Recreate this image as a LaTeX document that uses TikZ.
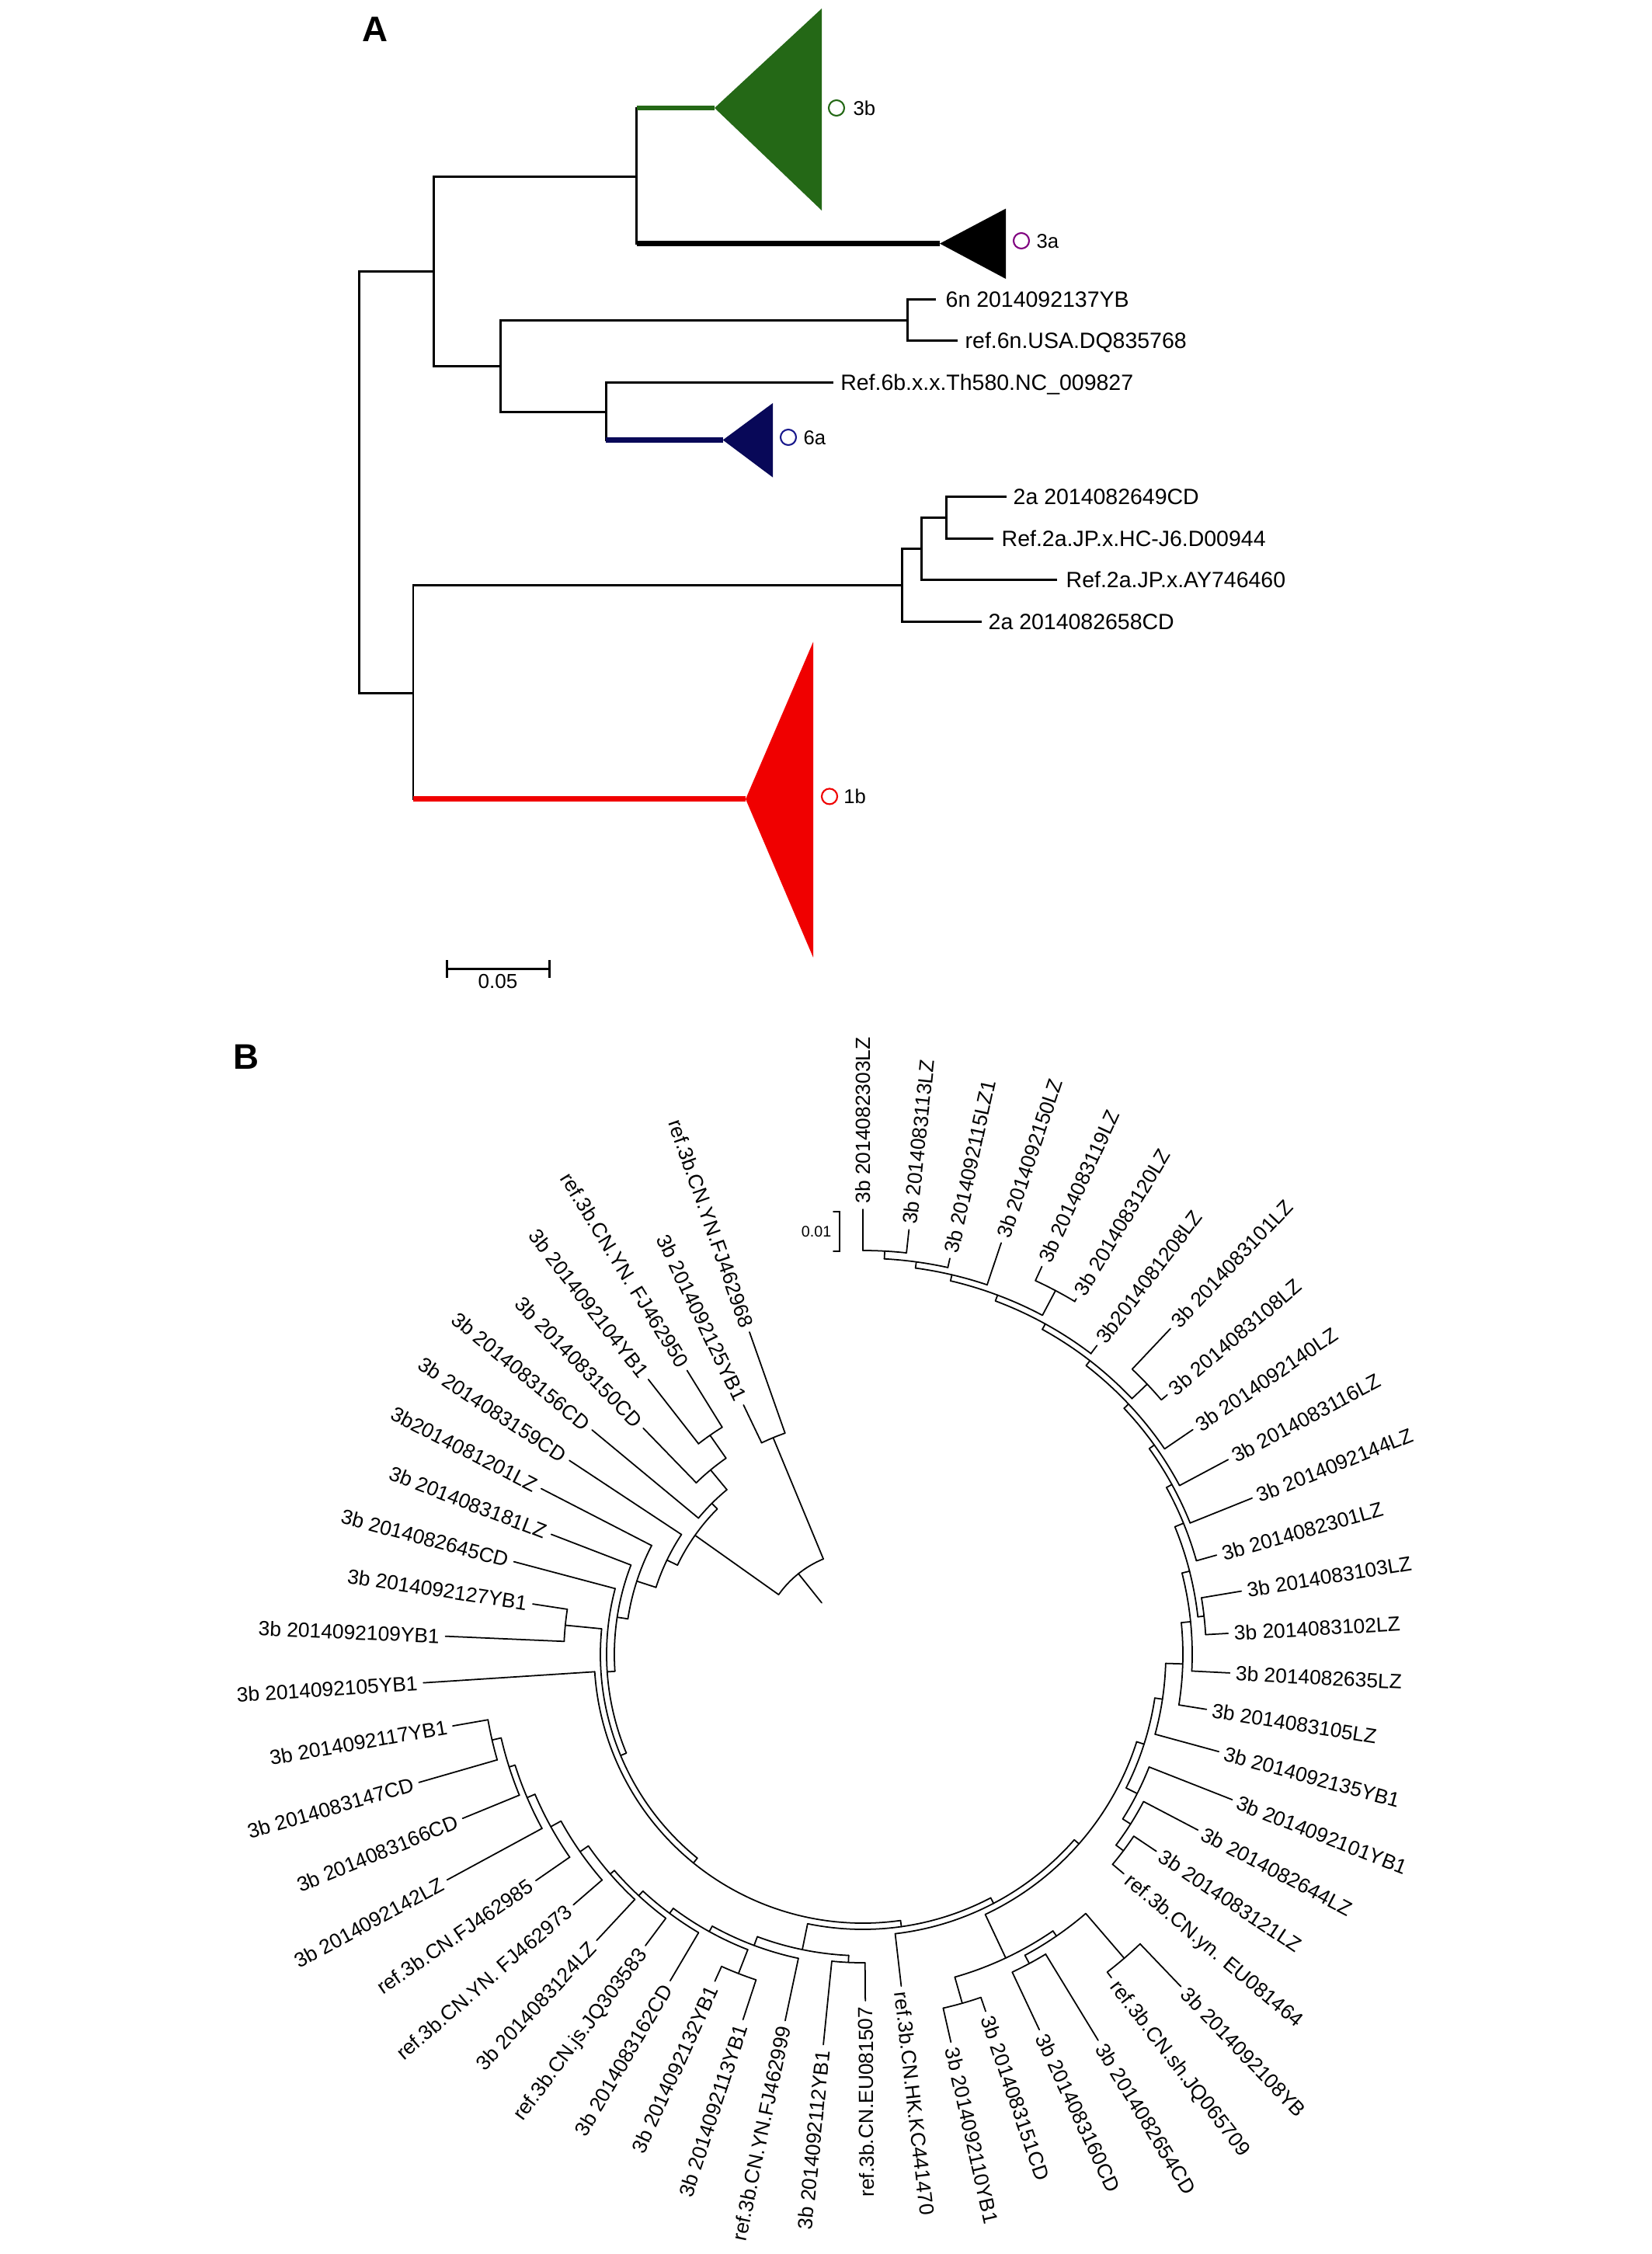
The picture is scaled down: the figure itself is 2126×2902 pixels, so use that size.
\documentclass[tikz,border=0pt]{standalone}
\usepackage{fontspec}
\setmainfont{Liberation Sans}
\definecolor{cladegreen}{RGB}{36,104,22}
\definecolor{cladenavy}{RGB}{8,8,88}
\definecolor{cladered}{RGB}{240,0,0}
\definecolor{circpurple}{RGB}{128,0,128}
\definecolor{circblue}{RGB}{25,25,140}
\newcommand\trArc[3]{\pgfmathsetmacro\tmpR{#1*0.01}\draw[tb] (#2:\tmpR cm) arc[start angle=#2, end angle=#3, radius=\tmpR cm];}
\newcommand\trRad[3]{\pgfmathsetmacro\tmpA{#2*0.01}\pgfmathsetmacro\tmpB{#3*0.01}\draw[tb] (#1:\tmpA cm) -- (#1:\tmpB cm);}
\tikzset{
 tb/.style={line width=0.5pt, line cap=round},
 ta/.style={line width=0.85pt, line cap=rect},
 blab/.style={font=\fontsize{7.5}{9}\selectfont, inner sep=0pt, text height=5.4pt, text depth=0pt},
 alab/.style={font=\fontsize{8.1}{9.7}\selectfont, anchor=west, inner sep=0pt, text height=5.8pt, text depth=0pt},
 clab/.style={font=\fontsize{7.3}{8.8}\selectfont, anchor=west, inner sep=0pt, text height=5.2pt, text depth=0pt},
 plab/.style={font=\bfseries\fontsize{13}{15}\selectfont, inner sep=0pt, text height=9.3pt, text depth=0pt},
 circ/.style={line width=0.6pt},
}
\begin{document}
\begin{tikzpicture}[x=0.01cm,y=0.01cm]
\useasboundingbox (0,0) rectangle (2126,-2902);
\fill[white] (0,0) rectangle (2126,-2902);

% ---------------- Panel A ----------------
\node[plab] (labA) at (483,-37.5) {A};
\begin{scope}[ta]
\draw (462.5,-349) -- (462.5,-892);
\draw (462.5,-349) -- (558,-349);
\draw (558,-227.5) -- (558,-471);
\draw (558,-227.5) -- (819.6,-227.5);
\draw (819.6,-139) -- (819.6,-313.6);
\draw (558,-471) -- (644,-471);
\draw (644,-412.5) -- (644,-530.7);
\draw (644,-412.5) -- (1168.5,-412.5);
\draw (1168.5,-385) -- (1168.5,-438.6);
\draw (1168.5,-385) -- (1203,-385);
\draw (1168.5,-438.6) -- (1231,-438.6);
\draw (644,-530.7) -- (780,-530.7);
\draw (780,-492.6) -- (780,-566.5);
\draw (780,-492.6) -- (1071.6,-492.6);
\draw (462.5,-892) -- (532,-892);
\draw (532,-753.6) -- (532,-1028.8);
\draw (532,-753.6) -- (1161,-753.6);
\draw (1161,-706.5) -- (1161,-800.4);
\draw (1161,-800.4) -- (1262,-800.4);
\draw (1161,-706.5) -- (1186,-706.5);
\draw (1186,-666.7) -- (1186,-746.3);
\draw (1186,-746.3) -- (1359,-746.3);
\draw (1186,-666.7) -- (1218.4,-666.7);
\draw (1218.4,-639.5) -- (1218.4,-693.2);
\draw (1218.4,-639.5) -- (1294,-639.5);
\draw (1218.4,-693.2) -- (1277,-693.2);
\end{scope}
% collapsed clades
\draw[cladegreen, line width=1.5pt] (819.6,-139) -- (920,-139);
\fill[cladegreen] (920,-139) -- (1058,-11) -- (1058,-271) -- cycle;
\draw[black, line width=1.8pt] (819.6,-313.6) -- (1210,-313.6);
\fill[black] (1210,-313.6) -- (1295,-268.6) -- (1295,-359) -- cycle;
\draw[cladenavy, line width=1.9pt] (780,-566.5) -- (930.7,-566.5);
\fill[cladenavy] (930.7,-566.5) -- (995,-519) -- (995,-614.6) -- cycle;
\draw[cladered, line width=1.9pt] (532,-1028.8) -- (960,-1028.8);
\fill[cladered] (960,-1028.8) -- (1047,-826.4) -- (1047,-1232.7) -- cycle;
% circles and clade labels
\draw[circ, cladegreen] (1077,-139) circle[radius=0.1cm];
\node[clab] (c3b) at (1098,-139) {3b};
\draw[circ, circpurple] (1315,-310) circle[radius=0.1cm];
\node[clab] (c3a) at (1334,-310) {3a};
\draw[circ, circblue] (1015,-563) circle[radius=0.1cm];
\node[clab] (c6a) at (1034,-563) {6a};
\draw[circ, cladered] (1068,-1025.4) circle[radius=0.1cm];
\node[clab] (c1b) at (1085.6,-1025.4) {1b};
% leaf labels
\node[alab] (a1) at (1217,-385) {6n 2014092137YB};
\node[alab] (a2) at (1242,-438.6) {ref.6n.USA.DQ835768};
\node[alab] (a3) at (1081.6,-492.6) {Ref.6b.x.x.Th580.NC\_009827};
\node[alab] (a4) at (1304,-639.5) {2a 2014082649CD};
\node[alab] (a5) at (1289,-693.2) {Ref.2a.JP.x.HC-J6.D00944};
\node[alab] (a6) at (1372,-746.3) {Ref.2a.JP.x.AY746460};
\node[alab] (a7) at (1272,-800.4) {2a 2014082658CD};
% scale bar
\begin{scope}[ta]
\draw (575,-1247.7) -- (707,-1247.7);
\draw (575,-1237.7) -- (575,-1257.7);
\draw (707,-1237.7) -- (707,-1257.7);
\end{scope}
\node[font=\fontsize{7.4}{9}\selectfont, inner sep=0pt, text height=5.3pt, text depth=0pt] (sA) at (641,-1263) {0.05};

% ---------------- Panel B ----------------
\node[plab] (labB) at (317.5,-1360) {B};
% scale bar 0.01
\draw[tb] (1073,-1560) -- (1081.3,-1560) -- (1081.3,-1611) -- (1073,-1611);
\node[font=\fontsize{5.6}{7}\selectfont, inner sep=0pt, anchor=east, text height=4pt, text depth=0pt] (sB) at (1071,-1585) {0.01};

\begin{scope}[shift={(1111,-2130)}]
% root and upper-left
\trRad{-231.4}{85}{133}
\trArc{133}{-247.5}{-215.35}
\trRad{-247.5}{133}{302}
\trArc{302}{-250.6}{-244.4}
\trRad{-215.35}{133}{265}
\trArc{265}{-225}{-205.7}
\trRad{-225}{265}{275}
\trArc{275}{-230.45}{-219.6}
\trRad{-230.45}{275}{308}
\trArc{308}{-235.1}{-225.8}
\trRad{-235.1}{308}{344}
\trArc{344}{-238.2}{-232}
\trRad{-205.7}{265}{280}
\trArc{280}{-213.5}{-197.95}
\trRad{-197.95}{280}{306}
\trArc{306}{-207.3}{-188.6}
\trRad{-188.6}{306}{320}
\trArc{320}{-201.1}{-176.1}
\trRad{-176.1}{320}{330}
\trArc{330}{-194.9}{-157.35}
\trRad{-157.35}{330}{338}
\trArc{338}{-185.6}{-129.1}
\trRad{-185.6}{338}{385}
\trArc{385}{-188.7}{-182.5}
\trRad{-129.1}{338}{346}
\trArc{346}{-176.3}{-81.95}
\trRad{-81.95}{346}{354}
\trArc{354}{-101.6}{-62.3}
% outer ladder bottom-left
\trRad{-101.6}{354}{388}
\trArc{388}{-110.5}{-92.7}
\trRad{-92.7}{388}{397}
\trArc{397}{-95.8}{-89.6}
\trRad{-110.5}{388}{400}
\trArc{400}{-119}{-102}
\trRad{-119}{400}{408}
\trArc{408}{-126.75}{-111.3}
\trRad{-111.3}{408}{441}
\trArc{441}{-114.4}{-108.2}
\trRad{-126.75}{408}{416}
\trArc{416}{-132.9}{-120.6}
\trRad{-132.9}{416}{424}
\trArc{424}{-139}{-126.8}
\trRad{-139}{424}{431}
\trArc{431}{-145.1}{-132.9}
\trRad{-145.1}{431}{444}
\trArc{444}{-151.1}{-139.1}
\trRad{-151.1}{444}{459}
\trArc{459}{-156.9}{-145.3}
\trRad{-156.9}{459}{470}
\trArc{470}{-162.35}{-151.5}
\trRad{-162.35}{470}{478}
\trArc{478}{-167}{-157.7}
\trRad{-167}{478}{490}
\trArc{490}{-170.1}{-163.9}
% bottom-right
\trRad{-62.3}{354}{362}
\trArc{362}{-83.4}{-41.25}
\trRad{-41.25}{362}{370}
\trArc{370}{-64.8}{-17.7}
\trRad{-64.8}{370}{432}
\trArc{432}{-74.1}{-55.5}
\trRad{-74.1}{432}{467}
\trArc{467}{-77.2}{-71}
\trRad{-55.5}{432}{440}
\trArc{440}{-61.7}{-49.3}
\trRad{-61.7}{440}{452}
\trArc{452}{-64.8}{-58.6}
\trRad{-49.3}{440}{516}
\trArc{516}{-52.4}{-46.2}
\trRad{-17.7}{370}{380}
\trArc{380}{-26.9}{-8.5}
\trRad{-26.9}{380}{396}
\trArc{396}{-32.35}{-21.5}
\trRad{-32.35}{396}{408}
\trArc{408}{-37}{-27.7}
\trRad{-37}{408}{420}
\trArc{420}{-40.1}{-33.9}
% right and top
\trRad{-8.5}{380}{390}
\trArc{390}{-15.3}{-1.7}
\trRad{-1.7}{390}{412}
\trArc{412}{-9.1}{5.7}
\trRad{5.7}{412}{424}
\trArc{424}{-2.9}{14.3}
\trRad{14.3}{424}{434}
\trArc{434}{6.4}{22.25}
\trRad{6.4}{434}{442}
\trArc{442}{3.3}{9.5}
\trRad{22.25}{434}{446}
\trArc{446}{15.7}{28.8}
\trRad{28.8}{446}{454}
\trArc{454}{21.9}{35.7}
\trRad{35.7}{454}{462}
\trArc{462}{28.1}{43.3}
\trRad{43.3}{462}{470}
\trArc{470}{34.3}{52.3}
\trRad{52.3}{470}{478}
\trArc{478}{43.55}{61.1}
\trRad{43.55}{478}{505}
\trArc{505}{40.5}{46.6}
\trRad{61.1}{478}{486}
\trArc{486}{52.8}{69.45}
\trRad{69.45}{486}{494}
\trArc{494}{62.1}{76.8}
\trRad{62.1}{494}{530}
\trArc{530}{59}{65.2}
\trRad{76.8}{494}{502}
\trArc{502}{71.4}{82.25}
\trRad{82.25}{502}{510}
\trArc{510}{77.6}{86.9}
\trRad{86.9}{510}{520}
\trArc{520}{83.8}{90}
% leaves
\foreach \k/\lrn/\lrt/\ltxt in {
1/520/580/3b 2014082303LZ,
2/520/557/3b 2014083113LZ,
3/510/529/3b 2014092115LZ1,
4/502/566/3b 2014092150LZ,
5/530/557/3b 2014083119LZ,
6/530/541/3b 2014083120LZ,
7/486/506/3b2014081208LZ,
8/505/584/3b 2014083101LZ,
9/505/522/3b 2014083108LZ,
10/470/521/3b 2014092140LZ,
11/462/540/3b 2014083116LZ,
12/454/547/3b 2014092144LZ,
13/446/480/3b 2014082301LZ,
14/442/501/3b 2014083103LZ,
15/442/478/3b 2014083102LZ,
16/424/480/3b 2014082635LZ,
17/412/455/3b 2014083105LZ,
18/390/482/3b 2014092135YB1,
19/396/518/3b 2014092101YB1,
20/408/494/3b 2014082644LZ,
21/420/462/3b 2014083121LZ,
22/420/446/ref.3b.CN.yn. EU081464,
23/516/599/3b 2014092108YB,
24/516/532/ref.3b.CN.sh.JQ065709,
25/452/589/3b 2014082654CD,
26/452/541/3b 2014083160CD,
27/467/493/3b 2014083151CD,
28/467/519/3b 2014092110YB1,
29/362/437/ref.3b.CN.HK.KC441470,
30/397/453/ref.3b.CN.EU081507,
31/397/512/3b 2014092112YB1,
32/400/489/ref.3b.CN.YN.FJ462999,
33/441/502/3b 2014092113YB1,
34/441/469/3b 2014092132YB1,
35/416/495/3b 2014083162CD,
36/424/475/ref.3b.CN.js.JQ303583,
37/431/510/3b 2014083124LZ,
38/444/500/ref.3b.CN.YN. FJ462973,
39/459/519/ref.3b.CN.FJ462985,
40/470/616/3b 2014092142LZ,
41/478/564/3b 2014083166CD,
42/490/602/3b 2014083147CD,
43/490/543/3b 2014092117YB1,
44/346/574/3b 2014092105YB1,
45/385/545/3b 2014092109YB1,
46/385/437/3b 2014092127YB1,
47/330/472/3b 2014082645CD,
48/320/437/3b 2014083181LZ,
49/306/473/3b2014081201LZ,
50/280/460/3b 2014083159CD,
51/275/460/3b 2014083156CD,
52/308/413/3b 2014083150CD,
53/344/456/3b 2014092104YB1,
54/344/437/ref.3b.CN.YN. FJ462950,
55/302/363/3b 2014092125YB1,
56/302/447/ref.3b.CN.YN.FJ462968}{
  \pgfmathsetmacro\thA{90-(\k-1)*6.193}
  \pgfmathsetmacro\ra{\lrn*0.01}
  \pgfmathsetmacro\rb{(\lrt-7)*0.01}
  \pgfmathsetmacro\rc{\lrt*0.01}
  \draw[tb] (\thA:\ra cm) -- (\thA:\rb cm);
  \ifdim\thA pt>-89.5pt
    \node[blab, anchor=west, rotate=\thA] (L\k) at (\thA:\rc cm) {\ltxt};
  \else
    \pgfmathsetmacro\thF{\thA+180}
    \node[blab, anchor=east, rotate=\thF] (L\k) at (\thA:\rc cm) {\ltxt};
  \fi
}
\end{scope}
\end{tikzpicture}
\end{document}
